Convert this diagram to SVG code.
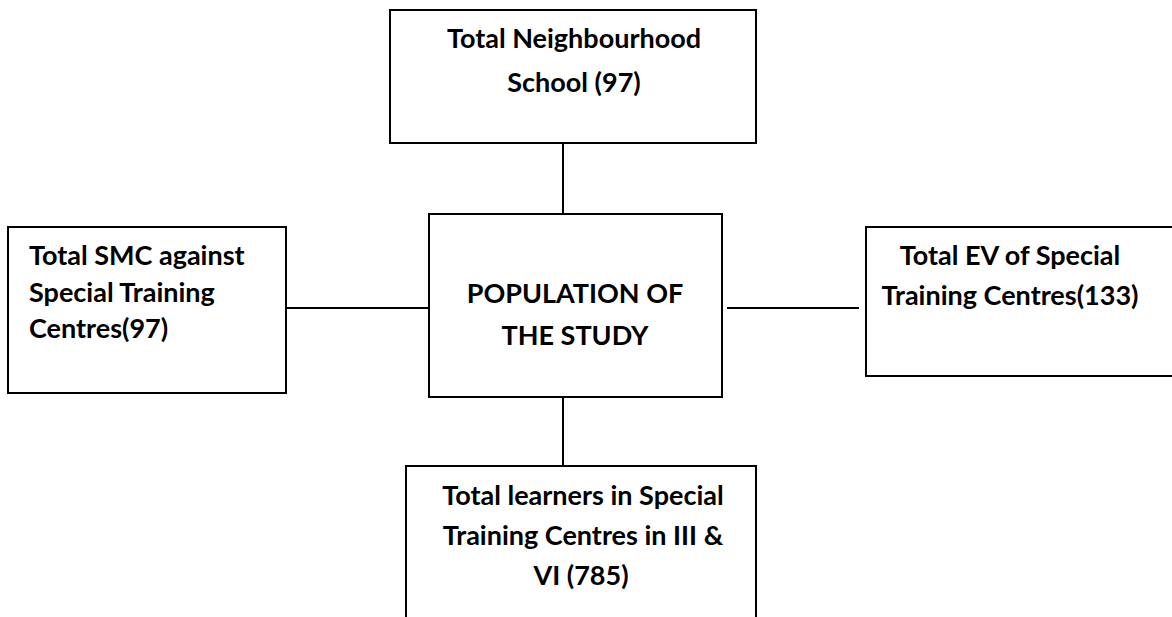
<svg xmlns="http://www.w3.org/2000/svg" width="1172" height="617" viewBox="0 0 1172 617">
<style>
.box{fill:#fff;stroke:#000;stroke-width:2}
.ln{stroke:#000;stroke-width:2;fill:none}
text{font-family:Lato,"Liberation Sans",sans-serif;font-weight:bold;font-size:27px;fill:#000}
.c{text-anchor:middle}
</style>
<rect width="1172" height="617" fill="#fff"/>
<g id="connectors">
<line class="ln" x1="563" y1="143" x2="563" y2="214"/>
<line class="ln" x1="274" y1="308" x2="430" y2="308"/>
<line class="ln" x1="727" y1="308" x2="859" y2="308"/>
<line class="ln" x1="563" y1="397" x2="563" y2="466"/>
</g>
<g id="top">
<rect class="box" x="390" y="10" width="366" height="133"/>
<text class="c" x="574" y="48">Total Neighbourhood</text>
<text class="c" x="574" y="92">School (97)</text>
</g>
<g id="left">
<rect class="box" x="8" y="227" width="278" height="166"/>
<text x="29" y="265">Total SMC against</text>
<text x="29" y="302">Special Training</text>
<text x="29" y="338">Centres(97)</text>
</g>
<g id="center">
<rect class="box" x="429" y="214" width="293" height="183"/>
<text class="c" x="575" y="303">POPULATION OF</text>
<text class="c" x="575" y="345">THE STUDY</text>
</g>
<g id="right">
<rect class="box" x="866" y="227" width="310" height="149"/>
<text class="c" x="1010" y="265">Total EV of Special</text>
<text class="c" x="1010" y="305">Training Centres(133)</text>
</g>
<g id="bottom">
<rect class="box" x="406" y="466" width="350" height="160"/>
<text class="c" x="583" y="505">Total learners in Special</text>
<text class="c" x="583" y="545">Training Centres in III &amp;</text>
<text class="c" x="581" y="585">VI (785)</text>
</g>
</svg>
